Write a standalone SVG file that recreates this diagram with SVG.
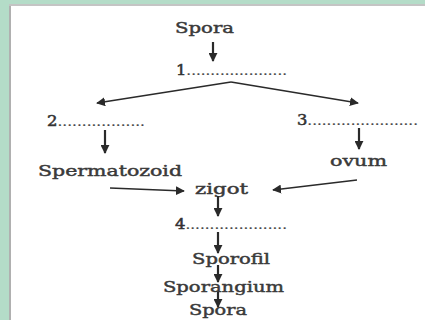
<svg xmlns="http://www.w3.org/2000/svg" width="425" height="320" viewBox="0 0 425 320">
<style>
.lbl{font-family:"DejaVu Serif","Liberation Serif",serif;font-size:15px;fill:#3a3a3a;stroke:#3a3a3a;stroke-width:0.45}
.dot{font-family:"DejaVu Serif","Liberation Serif",serif;font-size:13px;fill:#444444;stroke:#444444;stroke-width:0.2}
.num{font-size:14px;fill:#333333;stroke:#333333;stroke-width:0.5}
.con line{stroke:#2a2a2a;fill:none}
.v{stroke-width:2.2}
.d{stroke-width:1.6}
</style>
<defs>
<marker id="ah" viewBox="0 0 10 10" refX="9" refY="5" markerWidth="9" markerHeight="9" markerUnits="userSpaceOnUse" orient="auto">
<path d="M0,0 L10,5 L0,10 z" fill="#2a2a2a"/>
</marker>
</defs>
<rect width="425" height="320" fill="#b4dcc8"/>
<rect x="9" y="4" width="420" height="320" fill="#ffffff"/>
<line x1="10" y1="4" x2="10" y2="320" stroke="#b0b0b0" stroke-width="2"/>
<line x1="9" y1="5" x2="425" y2="5" stroke="#c4c4c4" stroke-width="2"/>
<g id="n-spora1"><text class="lbl" x="175" y="33" textLength="59" lengthAdjust="spacingAndGlyphs">Spora</text></g>
<g id="n-1"><text class="dot" x="176" y="75" textLength="111" lengthAdjust="spacingAndGlyphs"><tspan class="num">1</tspan>.....................</text></g>
<g id="n-2"><text class="dot" x="47" y="126" textLength="98" lengthAdjust="spacingAndGlyphs"><tspan class="num">2</tspan>..................</text></g>
<g id="n-3"><text class="dot" x="297" y="125" textLength="121" lengthAdjust="spacingAndGlyphs"><tspan class="num">3</tspan>.......................</text></g>
<g id="n-sperm"><text class="lbl" x="38" y="176" textLength="144" lengthAdjust="spacingAndGlyphs">Spermatozoid</text></g>
<g id="n-ovum"><text class="lbl" x="330" y="166" textLength="57" lengthAdjust="spacingAndGlyphs">ovum</text></g>
<g id="n-zigot"><text class="lbl" x="195" y="194" textLength="53" lengthAdjust="spacingAndGlyphs">zigot</text></g>
<g id="n-4"><text class="dot" x="175" y="229" textLength="112" lengthAdjust="spacingAndGlyphs"><tspan class="num">4</tspan>.....................</text></g>
<g id="n-sporofil"><text class="lbl" x="192" y="264" textLength="78" lengthAdjust="spacingAndGlyphs">Sporofil</text></g>
<g id="n-sporangium"><text class="lbl" x="163" y="292" textLength="121" lengthAdjust="spacingAndGlyphs">Sporangium</text></g>
<g id="n-spora2"><text class="lbl" x="189" y="315" textLength="58" lengthAdjust="spacingAndGlyphs">Spora</text></g>
<g id="connectors" class="con">
<line class="v" x1="213" y1="42" x2="213" y2="61" marker-end="url(#ah)"/>
<line class="d" x1="231" y1="82" x2="97" y2="103" marker-end="url(#ah)"/>
<line class="d" x1="231" y1="82" x2="358" y2="103" marker-end="url(#ah)"/>
<line class="v" x1="105" y1="130" x2="105" y2="153" marker-end="url(#ah)"/>
<line class="v" x1="359" y1="128" x2="359" y2="149" marker-end="url(#ah)"/>
<line class="d" x1="110" y1="188" x2="184" y2="191" marker-end="url(#ah)"/>
<line class="d" x1="357" y1="180" x2="273" y2="190" marker-end="url(#ah)"/>
<line class="v" x1="218" y1="196" x2="218" y2="216" marker-end="url(#ah)"/>
<line class="v" x1="218" y1="232" x2="218" y2="253" marker-end="url(#ah)"/>
<line class="v" x1="218" y1="265" x2="218" y2="282" marker-end="url(#ah)"/>
<line class="v" x1="218" y1="292" x2="218" y2="307" marker-end="url(#ah)"/>
</g>
</svg>
